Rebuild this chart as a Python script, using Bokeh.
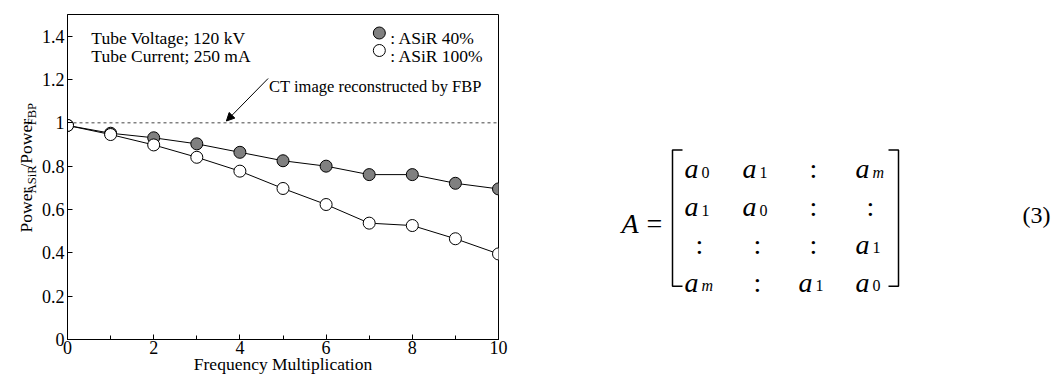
import numpy as np
from bokeh.plotting import figure
from bokeh.models import (Range1d, Arrow, NormalHead, SingleIntervalTicker,
                          FixedTicker, CustomJSTickFormatter)
from bokeh.layouts import row
from bokeh.embed import file_html
from bokeh.resources import INLINE
from bokeh.core.properties import value

# ---------------- data ----------------
freq = [0, 1, 2, 3, 4, 5, 6, 7, 8, 9, 10]
asir40 = [0.988, 0.952, 0.931, 0.903, 0.864, 0.825, 0.800, 0.761, 0.761, 0.721, 0.695]
asir100 = [0.988, 0.946, 0.898, 0.841, 0.777, 0.697, 0.623, 0.537, 0.526, 0.465, 0.395]
fbp_level = 1.0
y_ticks = [0, 0.2, 0.4, 0.6, 0.8, 1.0, 1.2, 1.4]
x_label = "Frequency Multiplication"
info_lines = ["Tube Voltage; 120 kV", "Tube Current; 250 mA"]
legend_labels = [": ASiR 40%", ": ASiR 100%"]
note_text = "CT image reconstructed by FBP"
ylabel_parts = [("Power", False), ("ASiR", True), ("/Power", False), ("FBP", True)]

# matrix (equation 3)
matrix = [
    [("a", "0"), ("a", "1"), (":", ""), ("a", "m")],
    [("a", "1"), ("a", "0"), (":", ""), (":", "")],
    [(":", ""), (":", ""), (":", ""), ("a", "1")],
    [("a", "m"), (":", ""), ("a", "1"), ("a", "0")],
]
eq_number = "(3)"

FONT = "Liberation Serif"
GRAY = "#808080"

# ---------------- geometry ----------------
PAGE_W, PAGE_H = 1053, 379
LEFT_W = 510                   # chart block width
YL_W = 38                      # strip holding the rotated y label
CH_W = LEFT_W - YL_W           # chart figure width
L, R, T, B = 64 - YL_W, 12, 14, 40
XMAX, YMAX = 10, 1.5
FRAME_L, FRAME_B = 64, 339
fw, fh = 434, 325


def dx(px):  # page pixel -> data x
    return (px - FRAME_L) / fw * XMAX


def dy(py):  # page pixel -> data y
    return (FRAME_B - py) / fh * YMAX


def pixel_fig(w, h, x0, y0):
    f = figure(width=w, height=h, x_range=Range1d(x0, x0 + w), y_range=Range1d(y0 + h, y0),
               output_backend="svg", toolbar_location=None,
               x_axis_location=None, y_axis_location=None,
               min_border_left=0, min_border_right=0, min_border_top=0, min_border_bottom=0)
    f.grid.visible = False
    f.outline_line_color = None
    f.background_fill_color = "white"
    f.border_fill_color = "white"
    return f


# ---------------- chart ----------------
p = figure(width=CH_W, height=PAGE_H, x_range=Range1d(0, XMAX), y_range=Range1d(0, YMAX),
           output_backend="svg", toolbar_location=None,
           min_border_left=L, min_border_right=R, min_border_top=T, min_border_bottom=B)
p.xgrid.visible = False
p.ygrid.visible = False
p.outline_line_color = "black"
p.outline_line_alpha = 1.0
p.background_fill_color = "white"
p.border_fill_color = "white"

p.xaxis.ticker = SingleIntervalTicker(interval=2, num_minor_ticks=2)
p.yaxis.ticker = FixedTicker(ticks=y_ticks, minor_ticks=[])
p.yaxis.formatter = CustomJSTickFormatter(code="return String(Math.round(tick*10)/10)")
for ax in (p.xaxis, p.yaxis):
    ax.axis_line_color = "black"
    ax.major_tick_line_color = "black"
    ax.minor_tick_line_color = "black"
    ax.major_tick_in = 5
    ax.major_tick_out = 0
    ax.minor_tick_in = 4
    ax.minor_tick_out = 0
    ax.major_label_text_font = FONT
    ax.major_label_text_font_size = "18px"
    ax.major_label_text_color = "black"
p.yaxis.major_label_standoff = 3
p.xaxis.major_label_standoff = 1

# x axis title
p.xaxis.axis_label = x_label
p.xaxis.axis_label_text_font = FONT
p.xaxis.axis_label_text_font_size = "17.5px"
p.xaxis.axis_label_text_font_style = "normal"
p.xaxis.axis_label_text_color = "black"
p.xaxis.axis_label_standoff = -3

# reference dashed line (FBP)
p.line([0, XMAX], [fbp_level, fbp_level], line_color="#444444", line_width=1, line_dash="3 3")

# series
p.line(freq, asir40, line_color="black", line_width=1)
p.scatter(freq, asir40, size=12, fill_color=GRAY, line_color="black", line_width=1)
p.line(freq, asir100, line_color="black", line_width=1)
p.scatter(freq, asir100, size=12, fill_color="white", line_color="black", line_width=1)

TXT = dict(text_font=value(FONT), text_color="black", text_align="left", text_baseline="alphabetic")

# info text
p.text(x=[dx(88)] * 2, y=[dy(37.5), dy(55)], text=info_lines, text_font_size="17.5px", **TXT)

# legend
p.scatter([dx(378)] * 2, [dy(32.5), dy(50)], size=12,
          fill_color=[GRAY, "white"], line_color="black", line_width=1)
p.text(x=[dx(389)] * 2, y=[dy(37.5), dy(55)], text=legend_labels, text_font_size="17.5px", **TXT)

# note with arrow
p.text(x=[dx(267)], y=[dy(86)], text=[note_text], text_font_size="16.5px", **TXT)
p.add_layout(Arrow(end=NormalHead(size=8, fill_color="black", line_color="black"),
                   x_start=dx(266), y_start=dy(78), x_end=dx(224), y_end=dy(120.5),
                   line_color="black", line_width=1))

# ---------------- y label strip ----------------
yl = pixel_fig(YL_W, PAGE_H, 0, 0)
main_size, sub_size = 17.5, 12.5
gap = 1.0
widths = {"Power": 2.555, "ASiR": 2.223, "/Power": 2.833, "FBP": 1.779}
total = sum(widths[t] * (sub_size if s else main_size) + gap for t, s in ylabel_parts)
pos = 180 + total / 2
ys_, xs_, ts_, sz_ = [], [], [], []
for t, s in ylabel_parts:
    size = sub_size if s else main_size
    xs_.append(31.5 if s else 25.5)
    ys_.append(pos)
    ts_.append(t)
    sz_.append(f"{size}px")
    pos -= widths[t] * size + gap
yl.text(x=xs_, y=ys_, text=ts_, angle=np.pi / 2, text_font_size=sz_, **TXT)

# ---------------- equation ----------------
W2 = PAGE_W - LEFT_W
p2 = pixel_fig(W2, PAGE_H, LEFT_W, 0)

col_x = [699, 757, 813, 870]
row_y = [180, 224, 268, 312]
mx_top, mx_bot = 158, 317
lb_x, rb_x = 672, 898

xs_a, ys_a, t_a = [], [], []
xs_s, ys_s, t_s = [], [], []
xs_c, ys_c = [], []
for r, rowcells in enumerate(matrix):
    for c, (base, sub) in enumerate(rowcells):
        if base == ":":
            xs_c.append(col_x[c]); ys_c.append(row_y[r])
        else:
            xs_a.append(col_x[c] - 15); ys_a.append(row_y[r]); t_a.append(base)
            xs_s.append(col_x[c] + 2); ys_s.append(row_y[r] + 4); t_s.append(sub)

p2.text(x=xs_a, y=ys_a, text=t_a, text_font_style="italic", text_font_size="28px", **TXT)
sub_style = ["italic" if s == "m" else "normal" for s in t_s]
p2.text(x=xs_s, y=ys_s, text=t_s, text_font_style=sub_style, text_font_size="16px", **TXT)
p2.text(x=xs_c, y=ys_c, text=[":"] * len(xs_c), text_font=value(FONT),
        text_font_size="28px", text_align="center", text_baseline="alphabetic", text_color="black")

# A =
p2.text(x=[621], y=[244], text=["A"], text_font_style="italic", text_font_size="28px", **TXT)
p2.text(x=[654], y=[244], text=["="], text_font=value(FONT),
        text_font_size="28px", text_align="center", text_baseline="alphabetic", text_color="black")

# brackets
p2.multi_line(xs=[[lb_x + 10, lb_x, lb_x, lb_x + 10], [rb_x - 10, rb_x, rb_x, rb_x - 10]],
              ys=[[mx_top, mx_top, mx_bot, mx_bot], [mx_top, mx_top, mx_bot, mx_bot]],
              line_color="black", line_width=1.5)

# equation number
p2.text(x=[1036], y=[234], text=[eq_number], text_font=value(FONT),
        text_font_size="24px", text_align="center", text_baseline="alphabetic", text_color="black")

layout = row(yl, p, p2)
open("out.html", "w").write(file_html(layout, INLINE))
